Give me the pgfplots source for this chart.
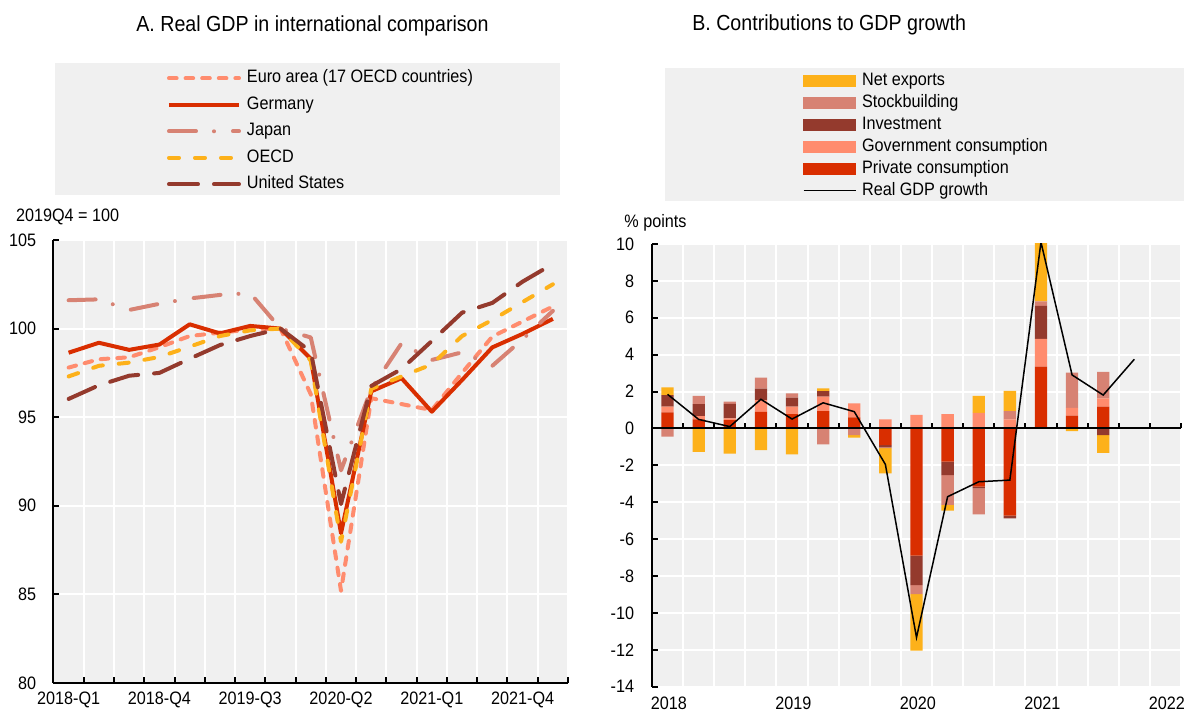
\documentclass[border=0pt]{standalone}
\usepackage{fontspec}
\setmainfont{Liberation Sans}[FakeStretch=0.9]
\usepackage{pgfplots}
\pgfplotsset{compat=1.18}
\usepackage{pgfplotstable}

\definecolor{cred}{HTML}{D92E00}
\definecolor{csalmon}{HTML}{FF8C6E}
\definecolor{cbrown}{HTML}{943A2D}
\definecolor{cpink}{HTML}{D78273}
\definecolor{cyellow}{HTML}{FDB11A}
\definecolor{bggray}{HTML}{F0F0F0}

\newcommand{\tickfont}{\fontsize{9}{10.8}\selectfont}
\newcommand{\titlefont}{\fontsize{10.9}{13}\selectfont}

\pgfplotstableread{
i  de     ea     jp     oecd   us
0  98.64  97.80  101.60 97.30  96.03
1  99.20  98.27  101.65 97.90  96.80
2  98.80  98.38  101.05 98.08  97.34
3  99.10  98.95  101.40 98.40  97.50
4  100.24 99.58  101.70 98.98  98.30
5  99.73  99.77  101.90 99.58  99.07
6  100.15 99.95  102.00 99.90  99.58
7  100.00 100.00 100.00 100.00 100.00
8  98.30  96.30  99.50  98.20  98.70
9  88.45  85.20  92.00  87.97  90.10
10 96.46  96.07  96.60  96.60  96.76
11 97.20  95.74  99.17  97.30  97.72
12 95.31  95.40  98.23  97.98  99.30
13 97.10  97.50  98.66  99.58  100.90
14 98.94  99.55  97.90  100.49 101.45
15 99.70  100.40 99.40  101.50 102.65
16 100.55 101.25 101.00 102.50 103.65
}\gdptable

\pgfplotstableread{
x    priv gov  inv  stock nx
0.5  0.87 0.31 0.63 0.00 0.41
1.5  0.49 0.18 0.65 0.45 0.00
2.5  0.45 0.10 0.78 0.13 0.00
3.5  0.90 0.63 0.63 0.60 0.00
4.5  0.78 0.40 0.49 0.23 0.00
5.5  0.94 0.78 0.31 0.00 0.14
6.5  0.60 0.76 0.00 0.00 0.00
7.5  0.00 0.49 0.00 0.00 0.00
8.5  0.00 0.73 0.00 0.00 0.00
9.5  0.00 0.78 0.00 0.00 0.00
10.5 0.00 0.85 0.00 0.00 0.91
11.5 0.00 0.49 0.00 0.45 1.10
12.5 3.35 1.50 1.79 0.25 3.20
13.5 0.69 0.43 0.00 1.90 0.00
14.5 1.18 0.45 0.00 1.44 0.00
}\postable

\pgfplotstableread{
x    priv  gov  inv   stock nx
0.5  0.00  0.00 0.00  -0.45 0.00
1.5  0.00  0.00 0.00  0.00  -1.27
2.5  0.00  0.00 0.00  0.00  -1.36
3.5  0.00  0.00 0.00  0.00  -1.18
4.5  0.00  0.00 0.00  0.00  -1.41
5.5  0.00  0.00 0.00  -0.87 0.00
6.5  0.00  0.00 0.00  -0.36 -0.14
7.5  -0.90 0.00 -0.12 -0.05 -1.36
8.5  -6.90 0.00 -1.59 -0.49 -3.07
9.5  -1.80 0.00 -0.73 -1.62 -0.31
10.5 -3.16 0.00 -0.09 -1.41 0.00
11.5 -4.73 0.00 -0.15 0.00  0.00
12.5 0.00  0.00 0.00  0.00  0.00
13.5 0.00  0.00 0.00  0.00  -0.14
14.5 0.00  0.00 -0.36 0.00  -0.96
}\negtable

\pgfplotstableread{
x    g
0.5  1.85
1.5  0.49
2.5  0.10
3.5  1.58
4.5  0.51
5.5  1.39
6.5  0.91
7.5  -1.95
8.5  -11.33
9.5  -3.70
10.5 -2.89
11.5 -2.80
12.5 10.10
13.5 2.90
14.5 1.81
15.5 3.75
}\growthtable

\pgfplotsset{
  rightax/.style={at={(326pt,12.15pt)}, anchor=south west, scale only axis,
    width=264.5pt, height=221.35pt, xmin=0, xmax=17, ymin=-14, ymax=10},
}

\begin{document}
\begin{tikzpicture}
\path[use as bounding box] (0pt,0pt) rectangle (592.5pt,355.5pt);
\fill[bggray] (27.5pt,258pt) rectangle (280pt,324pt);
\fill[bggray] (332.7pt,255.15pt) rectangle (592pt,321.5pt);
\node[anchor=base, font=\titlefont, inner sep=0pt] at (156.25pt,339.65pt) {A. Real GDP in international comparison};
\node[anchor=base, font=\titlefont, inner sep=0pt] at (414.6pt,340.2pt) {B. Contributions to GDP growth};
\node[anchor=base west, inner sep=0pt, font=\tickfont] at (7.85pt,244.65pt) {2019Q4 = 100};
\node[anchor=base west, inner sep=0pt, font=\tickfont] at (312pt,241.85pt) {\% points};

% ---------------- Panel A
\begin{axis}[
  at={(26.75pt,14pt)}, anchor=south west, scale only axis,
  width=257.25pt, height=221.5pt,
  xmin=-0.5, xmax=16.5, ymin=80, ymax=105,
  axis background/.style={fill=bggray},
  axis x line=bottom, axis y line=left,
  axis line style={-, line width=1pt, black},
  xtick={-0.5,0.5,...,16.5}, xticklabels={},
  extra x ticks={0,3,6,9,12,15},
  extra x tick labels={2018-Q1,2018-Q4,2019-Q3,2020-Q2,2021-Q1,2021-Q4},
  extra x tick style={major tick length=0pt, grid=none},
  ytick={80,85,...,105}, yticklabels={80,85,90,95,100,105},
  xmajorgrids, ymajorgrids, grid style={white, line width=1pt},
  tick align=inside, major tick length=2.8pt,
  tick style={black, line width=1pt},
  tick label style={font=\tickfont, inner sep=0pt},
  xticklabel style={anchor=north, yshift=-4.35pt},
  yticklabel style={anchor=east, xshift=-8.5pt},
  legend style={at={(0.2206,1.3842)}, anchor=north west, draw=none, fill=none,
    inner sep=0pt, outer sep=0pt, row sep=4.75pt, font=\tickfont,
    nodes={inner xsep=3pt, inner ysep=0pt, text height=6.6pt, text depth=1.9pt},
    cells={anchor=west}},
  legend cell align=left,
  legend image code/.code={\draw[#1] (0pt,0pt) -- (35pt,0pt);},
]
\addplot[csalmon, line width=2pt, line cap=round, line join=round, dash pattern=on 3.8pt off 4.5pt] table[x=i,y=ea] {\gdptable};
\addlegendentry{Euro area (17 OECD countries)}
\addplot[cred, line width=2pt, line join=round] table[x=i,y=de] {\gdptable};
\addlegendentry{Germany}
\addplot[cpink, line width=2pt, line cap=round, line join=round, dash pattern=on 13.5pt off 9pt on 0pt off 9.5pt] table[x=i,y=jp] {\gdptable};
\addlegendentry{Japan}
\addplot[cyellow, line width=2pt, line cap=round, line join=round, dash pattern=on 5pt off 8pt] table[x=i,y=oecd] {\gdptable};
\addlegendentry{OECD}
\addplot[cbrown, line width=2pt, line cap=round, line join=round, dash pattern=on 14.5pt off 8pt] table[x=i,y=us] {\gdptable};
\addlegendentry{United States}
\end{axis}

% ---------------- Panel B: background, grid, positive contributions
\begin{axis}[
  rightax, ybar stacked, bar width=6.15pt,
  axis background/.style={fill=bggray},
  axis x line=bottom, axis y line=left,
  axis line style={-, line width=1pt, black},
  x axis line style={draw=none},
  xtick={0,1,...,17}, xticklabels={}, xtick style={draw=none},
  extra x ticks={0,4,8,12,16},
  extra x tick labels={2018,2019,2020,2021,2022},
  extra x tick style={grid=none, major tick length=0pt,
    xticklabel style={anchor=north west, xshift=-0.75pt}},
  ytick={-14,-12,...,10},
  yticklabels={-14,-12,-10,-8,-6,-4,-2,0,2,4,6,8,10},
  xmajorgrids, ymajorgrids, grid style={white, line width=1pt},
  tick align=inside, major tick length=2.8pt,
  ytick style={black, line width=1pt},
  tick label style={font=\tickfont, inner sep=0pt},
  xticklabel style={anchor=north, yshift=-5pt},
  yticklabel style={anchor=east, xshift=-8.75pt},
]
\addplot[fill=cred, draw=none] table[x=x,y=priv] {\postable};
\addplot[fill=csalmon, draw=none] table[x=x,y=gov] {\postable};
\addplot[fill=cbrown, draw=none] table[x=x,y=inv] {\postable};
\addplot[fill=cpink, draw=none] table[x=x,y=stock] {\postable};
\addplot[fill=cyellow, draw=none] table[x=x,y=nx] {\postable};
\end{axis}

% negative contributions
\begin{axis}[rightax, ybar stacked, bar width=6.15pt, hide axis]
\addplot[fill=cred, draw=none] table[x=x,y=priv] {\negtable};
\addplot[fill=csalmon, draw=none] table[x=x,y=gov] {\negtable};
\addplot[fill=cbrown, draw=none] table[x=x,y=inv] {\negtable};
\addplot[fill=cpink, draw=none] table[x=x,y=stock] {\negtable};
\addplot[fill=cyellow, draw=none] table[x=x,y=nx] {\negtable};
\end{axis}

% zero line and GDP growth
\begin{axis}[
  rightax,
  axis x line=middle, axis y line=none,
  axis line style={-, line width=1pt, black},
  xtick={1,2,...,17}, xticklabels={}, ytick=\empty,
  tick align=inside, major tick length=2.85pt,
  xtick style={black, line width=1pt},
  legend style={at={(0.2854,1.3883)}, anchor=north west, draw=none, fill=none,
    inner sep=0pt, outer sep=0pt, row sep=2.5pt, font=\tickfont,
    nodes={inner xsep=2.8pt, inner ysep=0pt, text height=6.6pt, text depth=1.9pt},
    cells={anchor=west}},
  legend cell align=left,
  legend image code/.code={\draw[#1] (0pt,0pt) -- (26pt,0pt);},
]
\addlegendimage{legend image code/.code={\fill[cyellow] (0pt,-2.75pt) rectangle (26pt,2.75pt);}}
\addlegendentry{Net exports}
\addlegendimage{legend image code/.code={\fill[cpink] (0pt,-2.75pt) rectangle (26pt,2.75pt);}}
\addlegendentry{Stockbuilding}
\addlegendimage{legend image code/.code={\fill[cbrown] (0pt,-2.75pt) rectangle (26pt,2.75pt);}}
\addlegendentry{Investment}
\addlegendimage{legend image code/.code={\fill[csalmon] (0pt,-2.75pt) rectangle (26pt,2.75pt);}}
\addlegendentry{Government consumption}
\addlegendimage{legend image code/.code={\fill[cred] (0pt,-2.75pt) rectangle (26pt,2.75pt);}}
\addlegendentry{Private consumption}
\addplot[black, line width=0.75pt, mark=none] table[x=x,y=g] {\growthtable};
\addlegendentry{Real GDP growth}
\end{axis}
\end{tikzpicture}
\end{document}
